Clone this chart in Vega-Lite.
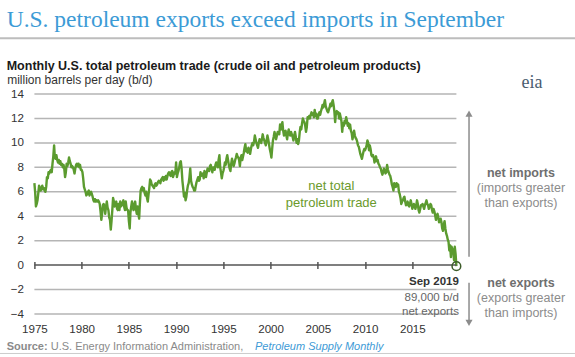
{
  "$schema": "https://vega.github.io/schema/vega-lite/v6.json",
  "width": 422,
  "height": 220,
  "autosize": {"type": "none"},
  "padding": {"left": 34.4, "top": 94, "right": 118.6, "bottom": 43},
  "background": "#ffffff",
  "title": {
    "text": "U.S. petroleum exports exceed imports in September",
    "subtitle": "Monthly U.S. total petroleum trade (crude oil and petroleum products)",
    "anchor": "start",
    "frame": "group",
    "dx": -27.7,
    "dy": 41.7,
    "offset": 6,
    "font": "Liberation Serif",
    "fontSize": 23.5,
    "fontWeight": "normal",
    "color": "#3c9bd6",
    "subtitleFont": "Liberation Sans",
    "subtitleFontSize": 12.5,
    "subtitleFontWeight": "bold",
    "subtitleColor": "#1a1a1a",
    "subtitlePadding": 29.3
  },
  "config": {
    "view": {"stroke": null},
    "font": "Liberation Sans"
  },
  "resolve": {"axis": {"x": "independent", "y": "independent"}},
  "datasets": {
    "trade": [
      {"d":"1975-01","v":6.7},{"d":"1975-02","v":5.9},{"d":"1975-03","v":4.8},{"d":"1975-04","v":5.0},{"d":"1975-05","v":5.3},{"d":"1975-06","v":5.9},{"d":"1975-07","v":6.5},{"d":"1975-08","v":6.3},{"d":"1975-09","v":6.1},{"d":"1975-10","v":6.3},{"d":"1975-11","v":6.5},{"d":"1975-12","v":6.2},
      {"d":"1976-01","v":6.3},{"d":"1976-02","v":6.1},{"d":"1976-03","v":6.0},{"d":"1976-04","v":6.4},{"d":"1976-05","v":7.2},{"d":"1976-06","v":7.1},{"d":"1976-07","v":7.6},{"d":"1976-08","v":7.5},{"d":"1976-09","v":7.7},{"d":"1976-10","v":7.8},{"d":"1976-11","v":7.6},{"d":"1976-12","v":8.3},
      {"d":"1977-01","v":8.9},{"d":"1977-02","v":9.8},{"d":"1977-03","v":8.8},{"d":"1977-04","v":8.7},{"d":"1977-05","v":9.0},{"d":"1977-06","v":8.6},{"d":"1977-07","v":8.4},{"d":"1977-08","v":8.6},{"d":"1977-09","v":8.3},{"d":"1977-10","v":8.5},{"d":"1977-11","v":8.2},{"d":"1977-12","v":8.3},
      {"d":"1978-01","v":8.0},{"d":"1978-02","v":8.2},{"d":"1978-03","v":7.9},{"d":"1978-04","v":7.2},{"d":"1978-05","v":7.6},{"d":"1978-06","v":8.3},{"d":"1978-07","v":8.1},{"d":"1978-08","v":8.4},{"d":"1978-09","v":8.8},{"d":"1978-10","v":8.5},{"d":"1978-11","v":8.3},{"d":"1978-12","v":8.0},
      {"d":"1979-01","v":8.1},{"d":"1979-02","v":8.0},{"d":"1979-03","v":7.8},{"d":"1979-04","v":7.5},{"d":"1979-05","v":7.9},{"d":"1979-06","v":8.2},{"d":"1979-07","v":8.3},{"d":"1979-08","v":8.1},{"d":"1979-09","v":8.3},{"d":"1979-10","v":8.0},{"d":"1979-11","v":8.2},{"d":"1979-12","v":7.8},
      {"d":"1980-01","v":7.8},{"d":"1980-02","v":7.6},{"d":"1980-03","v":7.1},{"d":"1980-04","v":6.4},{"d":"1980-05","v":6.2},{"d":"1980-06","v":6.0},{"d":"1980-07","v":5.7},{"d":"1980-08","v":5.8},{"d":"1980-09","v":6.0},{"d":"1980-10","v":6.1},{"d":"1980-11","v":5.7},{"d":"1980-12","v":5.9},
      {"d":"1981-01","v":6.0},{"d":"1981-02","v":5.8},{"d":"1981-03","v":5.6},{"d":"1981-04","v":5.3},{"d":"1981-05","v":5.2},{"d":"1981-06","v":5.4},{"d":"1981-07","v":5.2},{"d":"1981-08","v":5.3},{"d":"1981-09","v":5.2},{"d":"1981-10","v":5.3},{"d":"1981-11","v":5.2},{"d":"1981-12","v":5.0},
      {"d":"1982-01","v":4.4},{"d":"1982-02","v":3.7},{"d":"1982-03","v":4.2},{"d":"1982-04","v":4.9},{"d":"1982-05","v":5.0},{"d":"1982-06","v":4.8},{"d":"1982-07","v":4.2},{"d":"1982-08","v":4.8},{"d":"1982-09","v":5.2},{"d":"1982-10","v":4.7},{"d":"1982-11","v":4.5},{"d":"1982-12","v":3.9},
      {"d":"1983-01","v":3.7},{"d":"1983-02","v":2.9},{"d":"1983-03","v":3.6},{"d":"1983-04","v":4.5},{"d":"1983-05","v":5.5},{"d":"1983-06","v":5.2},{"d":"1983-07","v":4.8},{"d":"1983-08","v":5.0},{"d":"1983-09","v":5.2},{"d":"1983-10","v":4.6},{"d":"1983-11","v":4.5},{"d":"1983-12","v":5.0},
      {"d":"1984-01","v":4.5},{"d":"1984-02","v":5.2},{"d":"1984-03","v":4.8},{"d":"1984-04","v":4.9},{"d":"1984-05","v":5.1},{"d":"1984-06","v":5.3},{"d":"1984-07","v":4.8},{"d":"1984-08","v":4.5},{"d":"1984-09","v":5.2},{"d":"1984-10","v":4.7},{"d":"1984-11","v":4.5},{"d":"1984-12","v":4.5},
      {"d":"1985-01","v":3.6},{"d":"1985-02","v":3.0},{"d":"1985-03","v":4.3},{"d":"1985-04","v":4.8},{"d":"1985-05","v":5.2},{"d":"1985-06","v":4.7},{"d":"1985-07","v":4.5},{"d":"1985-08","v":5.0},{"d":"1985-09","v":5.2},{"d":"1985-10","v":4.6},{"d":"1985-11","v":4.2},{"d":"1985-12","v":4.8},
      {"d":"1986-01","v":4.2},{"d":"1986-02","v":3.8},{"d":"1986-03","v":5.0},{"d":"1986-04","v":6.1},{"d":"1986-05","v":6.3},{"d":"1986-06","v":6.4},{"d":"1986-07","v":6.1},{"d":"1986-08","v":6.3},{"d":"1986-09","v":5.9},{"d":"1986-10","v":5.7},{"d":"1986-11","v":6.0},{"d":"1986-12","v":5.5},
      {"d":"1987-01","v":5.2},{"d":"1987-02","v":5.8},{"d":"1987-03","v":6.3},{"d":"1987-04","v":7.0},{"d":"1987-05","v":6.9},{"d":"1987-06","v":6.6},{"d":"1987-07","v":6.5},{"d":"1987-08","v":6.4},{"d":"1987-09","v":6.3},{"d":"1987-10","v":6.6},{"d":"1987-11","v":6.7},{"d":"1987-12","v":6.5},
      {"d":"1988-01","v":6.6},{"d":"1988-02","v":6.8},{"d":"1988-03","v":6.9},{"d":"1988-04","v":6.8},{"d":"1988-05","v":6.7},{"d":"1988-06","v":7.0},{"d":"1988-07","v":7.1},{"d":"1988-08","v":7.2},{"d":"1988-09","v":6.9},{"d":"1988-10","v":7.2},{"d":"1988-11","v":7.0},{"d":"1988-12","v":7.3},
      {"d":"1989-01","v":7.0},{"d":"1989-02","v":7.3},{"d":"1989-03","v":7.5},{"d":"1989-04","v":7.6},{"d":"1989-05","v":7.4},{"d":"1989-06","v":7.3},{"d":"1989-07","v":7.6},{"d":"1989-08","v":7.7},{"d":"1989-09","v":7.2},{"d":"1989-10","v":7.4},{"d":"1989-11","v":7.6},{"d":"1989-12","v":7.5},
      {"d":"1990-01","v":8.4},{"d":"1990-02","v":7.2},{"d":"1990-03","v":7.5},{"d":"1990-04","v":7.7},{"d":"1990-05","v":8.0},{"d":"1990-06","v":8.4},{"d":"1990-07","v":8.5},{"d":"1990-08","v":7.9},{"d":"1990-09","v":6.9},{"d":"1990-10","v":6.3},{"d":"1990-11","v":5.6},{"d":"1990-12","v":5.9},
      {"d":"1991-01","v":5.3},{"d":"1991-02","v":5.6},{"d":"1991-03","v":6.1},{"d":"1991-04","v":6.5},{"d":"1991-05","v":6.7},{"d":"1991-06","v":7.2},{"d":"1991-07","v":7.9},{"d":"1991-08","v":6.9},{"d":"1991-09","v":6.6},{"d":"1991-10","v":6.4},{"d":"1991-11","v":6.3},{"d":"1991-12","v":6.1},
      {"d":"1992-01","v":6.1},{"d":"1992-02","v":6.5},{"d":"1992-03","v":6.8},{"d":"1992-04","v":7.0},{"d":"1992-05","v":7.2},{"d":"1992-06","v":6.9},{"d":"1992-07","v":7.0},{"d":"1992-08","v":7.6},{"d":"1992-09","v":7.3},{"d":"1992-10","v":7.4},{"d":"1992-11","v":7.5},{"d":"1992-12","v":7.1},
      {"d":"1993-01","v":7.7},{"d":"1993-02","v":7.5},{"d":"1993-03","v":7.2},{"d":"1993-04","v":7.6},{"d":"1993-05","v":7.9},{"d":"1993-06","v":7.8},{"d":"1993-07","v":7.7},{"d":"1993-08","v":8.1},{"d":"1993-09","v":8.2},{"d":"1993-10","v":7.9},{"d":"1993-11","v":7.6},{"d":"1993-12","v":8.0},
      {"d":"1994-01","v":8.0},{"d":"1994-02","v":7.8},{"d":"1994-03","v":8.2},{"d":"1994-04","v":8.4},{"d":"1994-05","v":8.3},{"d":"1994-06","v":8.0},{"d":"1994-07","v":8.6},{"d":"1994-08","v":9.0},{"d":"1994-09","v":8.0},{"d":"1994-10","v":7.6},{"d":"1994-11","v":7.1},{"d":"1994-12","v":7.5},
      {"d":"1995-01","v":7.7},{"d":"1995-02","v":8.0},{"d":"1995-03","v":8.4},{"d":"1995-04","v":8.2},{"d":"1995-05","v":8.7},{"d":"1995-06","v":9.0},{"d":"1995-07","v":8.6},{"d":"1995-08","v":8.2},{"d":"1995-09","v":7.9},{"d":"1995-10","v":7.7},{"d":"1995-11","v":8.3},{"d":"1995-12","v":8.7},
      {"d":"1996-01","v":8.4},{"d":"1996-02","v":8.1},{"d":"1996-03","v":8.3},{"d":"1996-04","v":8.6},{"d":"1996-05","v":8.8},{"d":"1996-06","v":9.1},{"d":"1996-07","v":8.9},{"d":"1996-08","v":8.8},{"d":"1996-09","v":8.6},{"d":"1996-10","v":8.1},{"d":"1996-11","v":8.8},{"d":"1996-12","v":9.0},
      {"d":"1997-01","v":8.6},{"d":"1997-02","v":8.9},{"d":"1997-03","v":9.2},{"d":"1997-04","v":9.6},{"d":"1997-05","v":9.9},{"d":"1997-06","v":9.3},{"d":"1997-07","v":9.5},{"d":"1997-08","v":9.2},{"d":"1997-09","v":9.6},{"d":"1997-10","v":9.4},{"d":"1997-11","v":9.1},{"d":"1997-12","v":9.5},
      {"d":"1998-01","v":9.8},{"d":"1998-02","v":10.0},{"d":"1998-03","v":9.8},{"d":"1998-04","v":10.1},{"d":"1998-05","v":10.6},{"d":"1998-06","v":10.3},{"d":"1998-07","v":10.0},{"d":"1998-08","v":9.8},{"d":"1998-09","v":9.6},{"d":"1998-10","v":10.0},{"d":"1998-11","v":10.3},{"d":"1998-12","v":10.1},
      {"d":"1999-01","v":10.0},{"d":"1999-02","v":10.3},{"d":"1999-03","v":10.7},{"d":"1999-04","v":10.4},{"d":"1999-05","v":10.2},{"d":"1999-06","v":10.0},{"d":"1999-07","v":9.8},{"d":"1999-08","v":10.2},{"d":"1999-09","v":10.6},{"d":"1999-10","v":10.3},{"d":"1999-11","v":9.9},{"d":"1999-12","v":9.5},
      {"d":"2000-01","v":9.2},{"d":"2000-02","v":8.8},{"d":"2000-03","v":9.5},{"d":"2000-04","v":10.2},{"d":"2000-05","v":10.5},{"d":"2000-06","v":10.9},{"d":"2000-07","v":10.6},{"d":"2000-08","v":10.3},{"d":"2000-09","v":10.6},{"d":"2000-10","v":10.9},{"d":"2000-11","v":10.8},{"d":"2000-12","v":10.7},
      {"d":"2001-01","v":11.5},{"d":"2001-02","v":11.1},{"d":"2001-03","v":11.4},{"d":"2001-04","v":11.7},{"d":"2001-05","v":11.0},{"d":"2001-06","v":10.6},{"d":"2001-07","v":10.9},{"d":"2001-08","v":11.0},{"d":"2001-09","v":10.6},{"d":"2001-10","v":10.3},{"d":"2001-11","v":10.8},{"d":"2001-12","v":11.1},
      {"d":"2002-01","v":10.7},{"d":"2002-02","v":10.6},{"d":"2002-03","v":10.9},{"d":"2002-04","v":10.7},{"d":"2002-05","v":10.5},{"d":"2002-06","v":10.2},{"d":"2002-07","v":10.6},{"d":"2002-08","v":10.9},{"d":"2002-09","v":10.5},{"d":"2002-10","v":10.0},{"d":"2002-11","v":10.3},{"d":"2002-12","v":9.9},
      {"d":"2003-01","v":10.2},{"d":"2003-02","v":10.9},{"d":"2003-03","v":11.3},{"d":"2003-04","v":11.1},{"d":"2003-05","v":11.6},{"d":"2003-06","v":12.0},{"d":"2003-07","v":11.8},{"d":"2003-08","v":11.7},{"d":"2003-09","v":11.4},{"d":"2003-10","v":10.9},{"d":"2003-11","v":11.3},{"d":"2003-12","v":12.1},
      {"d":"2004-01","v":12.0},{"d":"2004-02","v":12.2},{"d":"2004-03","v":12.0},{"d":"2004-04","v":12.3},{"d":"2004-05","v":12.5},{"d":"2004-06","v":12.3},{"d":"2004-07","v":12.4},{"d":"2004-08","v":12.1},{"d":"2004-09","v":12.7},{"d":"2004-10","v":12.2},{"d":"2004-11","v":12.4},{"d":"2004-12","v":12.0},
      {"d":"2005-01","v":12.0},{"d":"2005-02","v":12.3},{"d":"2005-03","v":12.5},{"d":"2005-04","v":12.3},{"d":"2005-05","v":12.6},{"d":"2005-06","v":12.8},{"d":"2005-07","v":13.1},{"d":"2005-08","v":12.9},{"d":"2005-09","v":13.2},{"d":"2005-10","v":13.5},{"d":"2005-11","v":13.0},{"d":"2005-12","v":12.8},
      {"d":"2006-01","v":12.6},{"d":"2006-02","v":12.5},{"d":"2006-03","v":12.7},{"d":"2006-04","v":12.9},{"d":"2006-05","v":13.2},{"d":"2006-06","v":13.0},{"d":"2006-07","v":13.3},{"d":"2006-08","v":13.5},{"d":"2006-09","v":13.1},{"d":"2006-10","v":12.6},{"d":"2006-11","v":11.7},{"d":"2006-12","v":12.5},
      {"d":"2007-01","v":12.6},{"d":"2007-02","v":12.4},{"d":"2007-03","v":12.5},{"d":"2007-04","v":12.0},{"d":"2007-05","v":12.4},{"d":"2007-06","v":12.1},{"d":"2007-07","v":11.8},{"d":"2007-08","v":10.9},{"d":"2007-09","v":11.6},{"d":"2007-10","v":11.4},{"d":"2007-11","v":11.8},{"d":"2007-12","v":11.6},
      {"d":"2008-01","v":12.1},{"d":"2008-02","v":11.8},{"d":"2008-03","v":11.4},{"d":"2008-04","v":11.6},{"d":"2008-05","v":11.2},{"d":"2008-06","v":11.5},{"d":"2008-07","v":11.0},{"d":"2008-08","v":10.8},{"d":"2008-09","v":10.3},{"d":"2008-10","v":10.6},{"d":"2008-11","v":11.0},{"d":"2008-12","v":10.6},
      {"d":"2009-01","v":10.4},{"d":"2009-02","v":10.3},{"d":"2009-03","v":10.1},{"d":"2009-04","v":9.8},{"d":"2009-05","v":9.7},{"d":"2009-06","v":9.4},{"d":"2009-07","v":9.1},{"d":"2009-08","v":8.9},{"d":"2009-09","v":8.7},{"d":"2009-10","v":9.0},{"d":"2009-11","v":9.3},{"d":"2009-12","v":9.5},
      {"d":"2010-01","v":9.4},{"d":"2010-02","v":9.6},{"d":"2010-03","v":9.8},{"d":"2010-04","v":10.2},{"d":"2010-05","v":10.0},{"d":"2010-06","v":9.4},{"d":"2010-07","v":9.8},{"d":"2010-08","v":9.5},{"d":"2010-09","v":9.0},{"d":"2010-10","v":8.9},{"d":"2010-11","v":9.0},{"d":"2010-12","v":8.8},
      {"d":"2011-01","v":8.4},{"d":"2011-02","v":8.6},{"d":"2011-03","v":8.9},{"d":"2011-04","v":8.5},{"d":"2011-05","v":8.6},{"d":"2011-06","v":8.3},{"d":"2011-07","v":8.2},{"d":"2011-08","v":8.0},{"d":"2011-09","v":7.9},{"d":"2011-10","v":7.6},{"d":"2011-11","v":7.4},{"d":"2011-12","v":7.6},
      {"d":"2012-01","v":7.9},{"d":"2012-02","v":7.7},{"d":"2012-03","v":7.5},{"d":"2012-04","v":7.6},{"d":"2012-05","v":8.2},{"d":"2012-06","v":7.8},{"d":"2012-07","v":7.6},{"d":"2012-08","v":7.4},{"d":"2012-09","v":7.3},{"d":"2012-10","v":7.0},{"d":"2012-11","v":6.6},{"d":"2012-12","v":6.4},
      {"d":"2013-01","v":6.1},{"d":"2013-02","v":6.7},{"d":"2013-03","v":6.5},{"d":"2013-04","v":6.4},{"d":"2013-05","v":6.7},{"d":"2013-06","v":6.5},{"d":"2013-07","v":6.6},{"d":"2013-08","v":6.0},{"d":"2013-09","v":5.8},{"d":"2013-10","v":5.5},{"d":"2013-11","v":5.0},{"d":"2013-12","v":5.2},
      {"d":"2014-01","v":5.3},{"d":"2014-02","v":5.5},{"d":"2014-03","v":5.6},{"d":"2014-04","v":5.2},{"d":"2014-05","v":4.9},{"d":"2014-06","v":5.0},{"d":"2014-07","v":5.2},{"d":"2014-08","v":4.9},{"d":"2014-09","v":4.8},{"d":"2014-10","v":5.0},{"d":"2014-11","v":5.3},{"d":"2014-12","v":5.0},
      {"d":"2015-01","v":4.6},{"d":"2015-02","v":4.8},{"d":"2015-03","v":5.0},{"d":"2015-04","v":4.8},{"d":"2015-05","v":4.6},{"d":"2015-06","v":4.9},{"d":"2015-07","v":5.3},{"d":"2015-08","v":5.0},{"d":"2015-09","v":4.5},{"d":"2015-10","v":4.3},{"d":"2015-11","v":4.6},{"d":"2015-12","v":4.9},
      {"d":"2016-01","v":4.9},{"d":"2016-02","v":5.0},{"d":"2016-03","v":4.8},{"d":"2016-04","v":4.6},{"d":"2016-05","v":4.9},{"d":"2016-06","v":5.1},{"d":"2016-07","v":5.3},{"d":"2016-08","v":5.0},{"d":"2016-09","v":4.9},{"d":"2016-10","v":4.6},{"d":"2016-11","v":4.8},{"d":"2016-12","v":5.0},
      {"d":"2017-01","v":4.9},{"d":"2017-02","v":4.5},{"d":"2017-03","v":4.3},{"d":"2017-04","v":4.6},{"d":"2017-05","v":4.4},{"d":"2017-06","v":4.1},{"d":"2017-07","v":3.7},{"d":"2017-08","v":4.0},{"d":"2017-09","v":4.2},{"d":"2017-10","v":3.9},{"d":"2017-11","v":3.5},{"d":"2017-12","v":3.6},
      {"d":"2018-01","v":3.8},{"d":"2018-02","v":3.5},{"d":"2018-03","v":3.0},{"d":"2018-04","v":2.8},{"d":"2018-05","v":3.3},{"d":"2018-06","v":3.6},{"d":"2018-07","v":3.0},{"d":"2018-08","v":2.6},{"d":"2018-09","v":2.4},{"d":"2018-10","v":2.1},{"d":"2018-11","v":1.9},{"d":"2018-12","v":1.2},
      {"d":"2019-01","v":1.6},{"d":"2019-02","v":0.65},{"d":"2019-03","v":1.5},{"d":"2019-04","v":1.3},{"d":"2019-05","v":1.2},{"d":"2019-06","v":0.4},{"d":"2019-07","v":1.5},{"d":"2019-08","v":0.9},{"d":"2019-09","v":-0.089}
    ],
    "gridlines": [{"g": -4}, {"g": -2}, {"g": 2}, {"g": 4}, {"g": 6}, {"g": 8}, {"g": 10}, {"g": 12}, {"g": 14}]
  },
  "data": {"name": "trade"},
  "layer": [
    {
      "data": {"name": "gridlines"},
      "mark": {"type": "rule", "color": "#b5b5b5", "strokeWidth": 1.5},
      "encoding": {"y": {"field": "g", "type": "quantitative", "axis": null}}
    },
    {
      "mark": {"type": "line", "color": "#5b9b2f", "strokeWidth": 2.4, "strokeJoin": "round"},
      "encoding": {
        "x": {
          "field": "d", "type": "temporal",
          "scale": {"domain": [{"year": 1975, "month": 1, "date": 1}, {"year": 2019, "month": 9, "date": 1}]},
          "axis": {
            "values": [{"year": 1975}, {"year": 1980}, {"year": 1985}, {"year": 1990}, {"year": 1995}, {"year": 2000}, {"year": 2005}, {"year": 2010}, {"year": 2015}],
            "format": "%Y", "title": null, "grid": false, "domain": false,
            "ticks": true, "tickSize": 7, "tickColor": "#555555", "tickWidth": 1.5,
            "offset": -52.5, "labelPadding": 55, "labelFlush": false, "labelAngle": 0, "labelOverlap": false,
            "labelFont": "Liberation Sans", "labelFontSize": 11.6, "labelColor": "#333333"
          }
        },
        "y": {
          "field": "v", "type": "quantitative",
          "scale": {"domain": [-4, 14], "nice": false, "zero": false},
          "axis": {
            "values": [-4, -2, 0, 2, 4, 6, 8, 10, 12, 14],
            "grid": false,
            "domain": false, "ticks": false, "labelPadding": 11, "labelOverlap": false,
            "labelFont": "Liberation Sans", "labelFontSize": 11.6, "labelColor": "#333333",
            "title": "million barrels per day (b/d)", "titleAngle": 0, "titleAlign": "left",
            "titleBaseline": "alphabetic", "titleX": -27.7, "titleY": -11,
            "titleFont": "Liberation Sans", "titleFontSize": 12, "titleFontWeight": "normal", "titleColor": "#333333"
          }
        }
      }
    },
    {
      "data": {"values": [{}]},
      "mark": {"type": "rule", "color": "#555555", "strokeWidth": 1.5},
      "encoding": {"y": {"datum": 0, "axis": null}}
    },
    {
      "transform": [{"filter": {"field": "v", "lt": 0}}],
      "mark": {"type": "point", "shape": "circle", "filled": false, "size": 75, "stroke": "#3d5c2a", "strokeWidth": 1.5, "opacity": 1},
      "encoding": {"x": {"field": "d", "type": "temporal", "axis": null}, "y": {"field": "v", "type": "quantitative", "axis": null}}
    },
    {
      "data": {"values": [{}]},
      "mark": {"type": "text", "text": ["net total", "petroleum trade"], "font": "Liberation Sans", "fontSize": 13, "color": "#6b9a2c", "align": "center", "baseline": "middle", "lineHeight": 16.7},
      "encoding": {"x": {"datum": {"year": 2006, "month": 6, "date": 5}, "axis": null}, "y": {"datum": 6.46, "axis": null}}
    },
    {
      "data": {"values": [{}]},
      "mark": {"type": "rule", "color": "#8c8c8c", "strokeWidth": 1.5},
      "encoding": {"x": {"datum": {"year": 2021, "month": 1, "date": 1}, "axis": null}, "y": {"datum": 12.36, "axis": null}, "y2": {"datum": 0.69}}
    },
    {
      "data": {"values": [{}]},
      "mark": {"type": "point", "shape": "triangle-up", "filled": true, "size": 50, "color": "#8c8c8c", "opacity": 1},
      "encoding": {"x": {"datum": {"year": 2021, "month": 1, "date": 1}, "axis": null}, "y": {"datum": 12.39, "axis": null}}
    },
    {
      "data": {"values": [{}]},
      "mark": {"type": "rule", "color": "#8c8c8c", "strokeWidth": 1.5},
      "encoding": {"x": {"datum": {"year": 2021, "month": 1, "date": 1}, "axis": null}, "y": {"datum": -1.44, "axis": null}, "y2": {"datum": -4.6}}
    },
    {
      "data": {"values": [{}]},
      "mark": {"type": "point", "shape": "triangle-down", "filled": true, "size": 50, "color": "#8c8c8c", "opacity": 1},
      "encoding": {"x": {"datum": {"year": 2021, "month": 1, "date": 1}, "axis": null}, "y": {"datum": -4.73, "axis": null}}
    },
    {
      "data": {"values": [{}]},
      "mark": {"type": "text", "text": "net imports", "font": "Liberation Sans", "fontSize": 12.5, "fontWeight": "bold", "color": "#6f6f6f", "align": "center", "baseline": "middle"},
      "encoding": {"x": {"datum": {"year": 2026, "month": 7, "date": 1}, "axis": null}, "y": {"datum": 7.56, "axis": null}}
    },
    {
      "data": {"values": [{}]},
      "mark": {"type": "text", "text": ["(imports greater", "than exports)"], "font": "Liberation Sans", "fontSize": 12.5, "color": "#8c8c8c", "align": "center", "baseline": "middle", "lineHeight": 14.4},
      "encoding": {"x": {"datum": {"year": 2026, "month": 7, "date": 1}, "axis": null}, "y": {"datum": 6.28, "axis": null}}
    },
    {
      "data": {"values": [{}]},
      "mark": {"type": "text", "text": "net exports", "font": "Liberation Sans", "fontSize": 12.5, "fontWeight": "bold", "color": "#6f6f6f", "align": "center", "baseline": "middle"},
      "encoding": {"x": {"datum": {"year": 2026, "month": 7, "date": 1}, "axis": null}, "y": {"datum": -1.49, "axis": null}}
    },
    {
      "data": {"values": [{}]},
      "mark": {"type": "text", "text": ["(exports greater", "than imports)"], "font": "Liberation Sans", "fontSize": 12.5, "color": "#8c8c8c", "align": "center", "baseline": "middle", "lineHeight": 14.4},
      "encoding": {"x": {"datum": {"year": 2026, "month": 7, "date": 1}, "axis": null}, "y": {"datum": -2.72, "axis": null}}
    },
    {
      "data": {"values": [{}]},
      "mark": {"type": "text", "text": "Sep 2019", "font": "Liberation Sans", "fontSize": 11.5, "fontWeight": "bold", "color": "#333333", "align": "right", "baseline": "middle", "dx": 2.5},
      "encoding": {"x": {"datum": {"year": 2019, "month": 9, "date": 1}, "axis": null}, "y": {"datum": -1.41, "axis": null}}
    },
    {
      "data": {"values": [{}]},
      "mark": {"type": "text", "text": ["89,000 b/d", "net exports"], "font": "Liberation Sans", "fontSize": 11.5, "color": "#666666", "align": "right", "baseline": "middle", "dx": 2.5, "lineHeight": 14},
      "encoding": {"x": {"datum": {"year": 2019, "month": 9, "date": 1}, "axis": null}, "y": {"datum": -2.67, "axis": null}}
    },
    {
      "data": {"values": [{}]},
      "mark": {"type": "rule", "color": "#bdbdbd", "strokeWidth": 2},
      "encoding": {"x": {"datum": {"year": 1971, "month": 1, "date": 1}, "axis": null}, "x2": {"datum": {"year": 2034, "month": 1, "date": 1}}, "y": {"datum": 18.56, "axis": null}}
    },
    {
      "data": {"values": [{}]},
      "mark": {"type": "rule", "color": "#cccccc", "strokeWidth": 1},
      "encoding": {"x": {"datum": {"year": 1971, "month": 1, "date": 1}, "axis": null}, "x2": {"datum": {"year": 2034, "month": 1, "date": 1}}, "y": {"datum": -7.23, "axis": null}}
    },
    {
      "data": {"values": [{}]},
      "mark": {"type": "text", "text": "eia", "font": "Liberation Serif", "fontSize": 18, "color": "#4a5d70", "align": "center", "baseline": "alphabetic"},
      "encoding": {"x": {"datum": {"year": 2027, "month": 9, "date": 1}, "axis": null}, "y": {"datum": 14.49, "axis": null}}
    },
    {
      "data": {"values": [{}]},
      "mark": {"type": "text", "text": "Source:", "font": "Liberation Sans", "fontSize": 11, "fontWeight": "bold", "color": "#8a8a8a", "align": "left", "baseline": "alphabetic", "dx": -27.7},
      "encoding": {"x": {"datum": {"year": 1975, "month": 1, "date": 1}, "axis": null}, "y": {"datum": -6.95, "axis": null}}
    },
    {
      "data": {"values": [{}]},
      "mark": {"type": "text", "text": "U.S. Energy Information Administration,", "font": "Liberation Sans", "fontSize": 11, "color": "#8a8a8a", "align": "left", "baseline": "alphabetic", "dx": 16.3},
      "encoding": {"x": {"datum": {"year": 1975, "month": 1, "date": 1}, "axis": null}, "y": {"datum": -6.95, "axis": null}}
    },
    {
      "data": {"values": [{}]},
      "mark": {"type": "text", "text": "Petroleum Supply Monthly", "font": "Liberation Sans", "fontSize": 11, "fontStyle": "italic", "color": "#3d9ad6", "align": "left", "baseline": "alphabetic", "dx": 220.6},
      "encoding": {"x": {"datum": {"year": 1975, "month": 1, "date": 1}, "axis": null}, "y": {"datum": -6.95, "axis": null}}
    }
  ]
}
